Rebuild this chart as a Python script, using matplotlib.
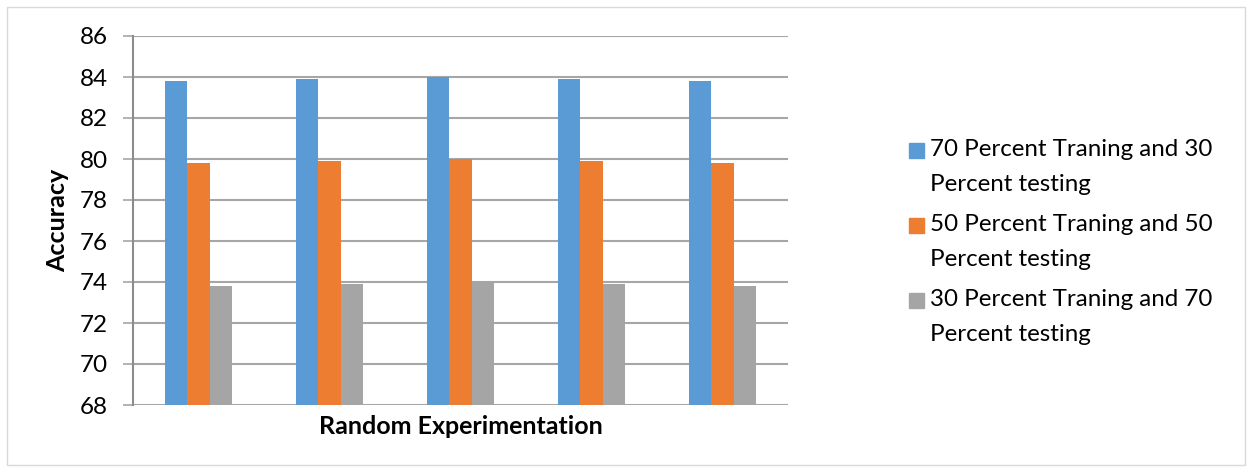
import matplotlib.pyplot as plt
import numpy as np
from matplotlib.patches import Rectangle

plt.rcParams["font.family"] = ["Lato", "DejaVu Sans"]

W = 0.168

runs = ["1", "2", "3", "4", "5"]
acc_70_30 = [83.8, 83.9, 84.0, 83.9, 83.8]
acc_50_50 = [79.8, 79.9, 80.0, 79.9, 79.8]
acc_30_70 = [73.8, 73.9, 74.0, 73.9, 73.8]
labels = ["70 Percent Traning and 30\nPercent testing",
          "50 Percent Traning and 50\nPercent testing",
          "30 Percent Traning and 70\nPercent testing"]
colors = ["#5B9BD5", "#ED7D31", "#A5A5A5"]

fig = plt.figure(figsize=(12.5, 4.72), dpi=100)
ax = fig.add_axes([133 / 1250, 1 - 405 / 472, 655 / 1250, 369 / 472])

x = np.arange(len(runs))
series = [acc_70_30, acc_50_50, acc_30_70]
for i, (vals, c) in enumerate(zip(series, colors)):
    ax.bar(x + (i - 1) * W, vals, W, color=c, zorder=3)

ax.set_xlim(-0.5, len(runs) - 0.5)
ax.set_ylim(68, 86)
ax.set_yticks(np.arange(68, 87, 2))
ax.set_xticks([])
ax.grid(axis="y", color="#A6A6A6", linewidth=1.5, zorder=0)
ax.tick_params(axis="y", length=7, width=1.2, color="#A6A6A6", pad=11, labelsize=17.5)
for s in ["top", "right", "bottom"]:
    ax.spines[s].set_visible(False)
ax.spines["left"].set_color("#8C8C8C")
ax.spines["left"].set_linewidth(1.5)

ax.set_ylabel("Accuracy", fontsize=18, fontweight="bold", va="center")
ax.yaxis.set_label_coords(-0.115, 0.5)
ax.set_xlabel("Random Experimentation", fontsize=18, fontweight="bold", va="center")
ax.xaxis.set_label_coords(0.5, -0.058)

# legend drawn by hand so the swatch sits on the first line of wrapped text
for i, (lab, c) in enumerate(zip(labels, colors)):
    yc = 150 + i * 75
    fig.add_artist(Rectangle((909 / 1250, 1 - (yc + 7.5) / 472), 15 / 1250, 15 / 472,
                             transform=fig.transFigure, color=c))
    # baseline of the last (second) line
    fig.text(930 / 1250, 1 - (yc + 41) / 472, lab, fontsize=17.4, va="baseline",
             ha="left", linespacing=1.8)

fig.add_artist(Rectangle((7 / 1250, 7 / 472), 1238 / 1250, 458 / 472,
                         transform=fig.transFigure, fill=False,
                         edgecolor="#D9D9D9", linewidth=1))

fig.savefig("out.png", dpi=100)
